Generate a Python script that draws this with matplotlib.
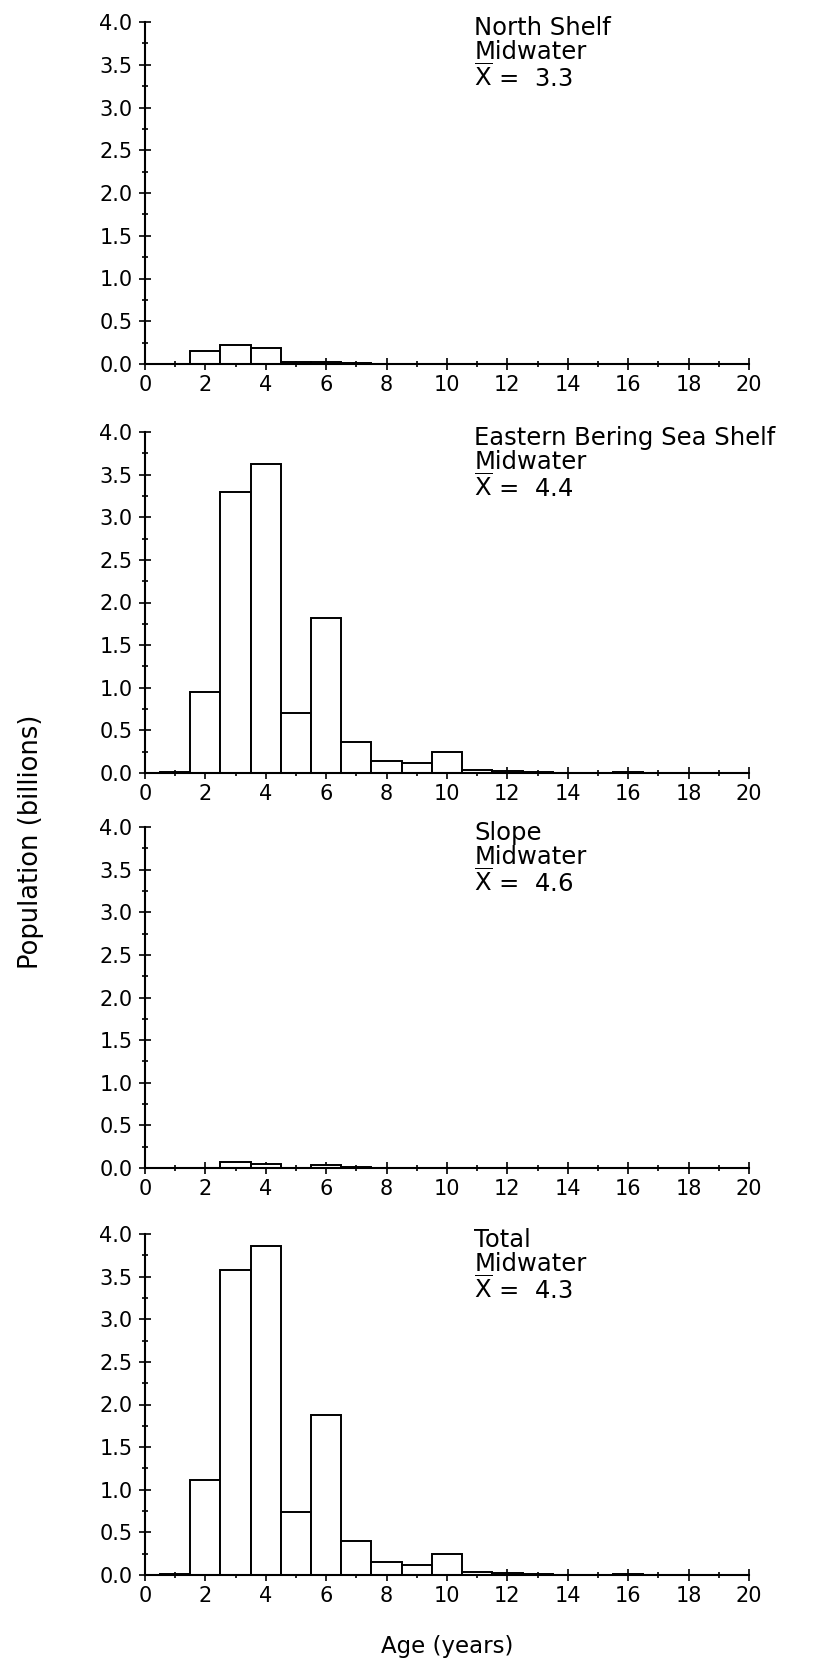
import matplotlib
matplotlib.use("Agg")
import matplotlib.pyplot as plt
from matplotlib.ticker import MultipleLocator, FormatStrFormatter

plt.rcParams['font.family'] = ['DejaVu Sans']
plt.rcParams['mathtext.fontset'] = 'dejavusans'

# age classes (years) and population (billions) for each area
ages = list(range(1, 21))
north_shelf = [0.0, 0.155, 0.22, 0.19, 0.02, 0.02, 0.01, 0.005, 0.005, 0.005,
               0.003, 0.003, 0.0, 0.0, 0.0, 0.0, 0.0, 0.0, 0.0, 0.0]
ebs_shelf = [0.01, 0.95, 3.30, 3.63, 0.70, 1.82, 0.36, 0.14, 0.12, 0.25,
             0.04, 0.02, 0.01, 0.005, 0.005, 0.01, 0.005, 0.0, 0.0, 0.0]
slope = [0.0, 0.0, 0.075, 0.045, 0.005, 0.03, 0.01, 0.005, 0.0, 0.0,
         0.0, 0.0, 0.0, 0.0, 0.0, 0.0, 0.0, 0.0, 0.0, 0.0]
total = [0.01, 1.11, 3.58, 3.86, 0.74, 1.88, 0.40, 0.15, 0.12, 0.25,
         0.04, 0.02, 0.01, 0.005, 0.005, 0.01, 0.005, 0.0, 0.0, 0.0]

titles = ["North Shelf", "Eastern Bering Sea Shelf", "Slope", "Total"]
means = ["3.3", "4.4", "4.6", "4.3"]
series = [north_shelf, ebs_shelf, slope, total]

W, H = 820, 1664
fig = plt.figure(figsize=(W / 100, H / 100), dpi=100)

# panel (top, bottom) in pixels
panels = [(22, 364), (432, 773), (827, 1168), (1234, 1575)]
left, right = 145, 749

for (top, bot), vals, title, mean in zip(panels, series, titles, means):
    ax = fig.add_axes([left / W, 1 - bot / H, (right - left) / W, (bot - top) / H])
    ax.bar(ages, vals, width=1.0, color='white', edgecolor='black', linewidth=1.4, zorder=2)
    ax.set_xlim(0, 20)
    ax.set_ylim(0, 4.0)
    for s in ['top', 'right']:
        ax.spines[s].set_visible(False)
    for s in ['left', 'bottom']:
        ax.spines[s].set_linewidth(1.5)
        ax.spines[s].set_zorder(3)
    ax.xaxis.set_major_locator(MultipleLocator(2))
    ax.xaxis.set_minor_locator(MultipleLocator(1))
    ax.yaxis.set_major_locator(MultipleLocator(0.5))
    ax.yaxis.set_minor_locator(MultipleLocator(0.25))
    ax.yaxis.set_major_formatter(FormatStrFormatter('%.1f'))
    ax.tick_params(which='major', direction='inout', length=8, width=1.2, labelsize=15)
    ax.tick_params(which='minor', direction='inout', length=5, width=1.2)
    ax.tick_params(axis='y', which='major', pad=5)
    ax.tick_params(axis='x', which='major', pad=4)

    ax.text(10.9, 3.85, title, fontsize=17.5, va='baseline', ha='left', clip_on=False)
    ax.text(10.9, 3.57, "Midwater", fontsize=17.5, va='baseline', ha='left')
    ax.text(10.9, 3.24, r"$\overline{\mathrm{X}}$ =  " + mean, fontsize=17.5,
            va='baseline', ha='left')

fig.text(31 / W, 1 - 842 / H, "Population (billions)", rotation=90, fontsize=18.5,
         ha='center', va='center')
fig.text(447 / W, 1 - 1646 / H, "Age (years)", fontsize=16.5, ha='center', va='center')

fig.savefig("out.png", dpi=100)
